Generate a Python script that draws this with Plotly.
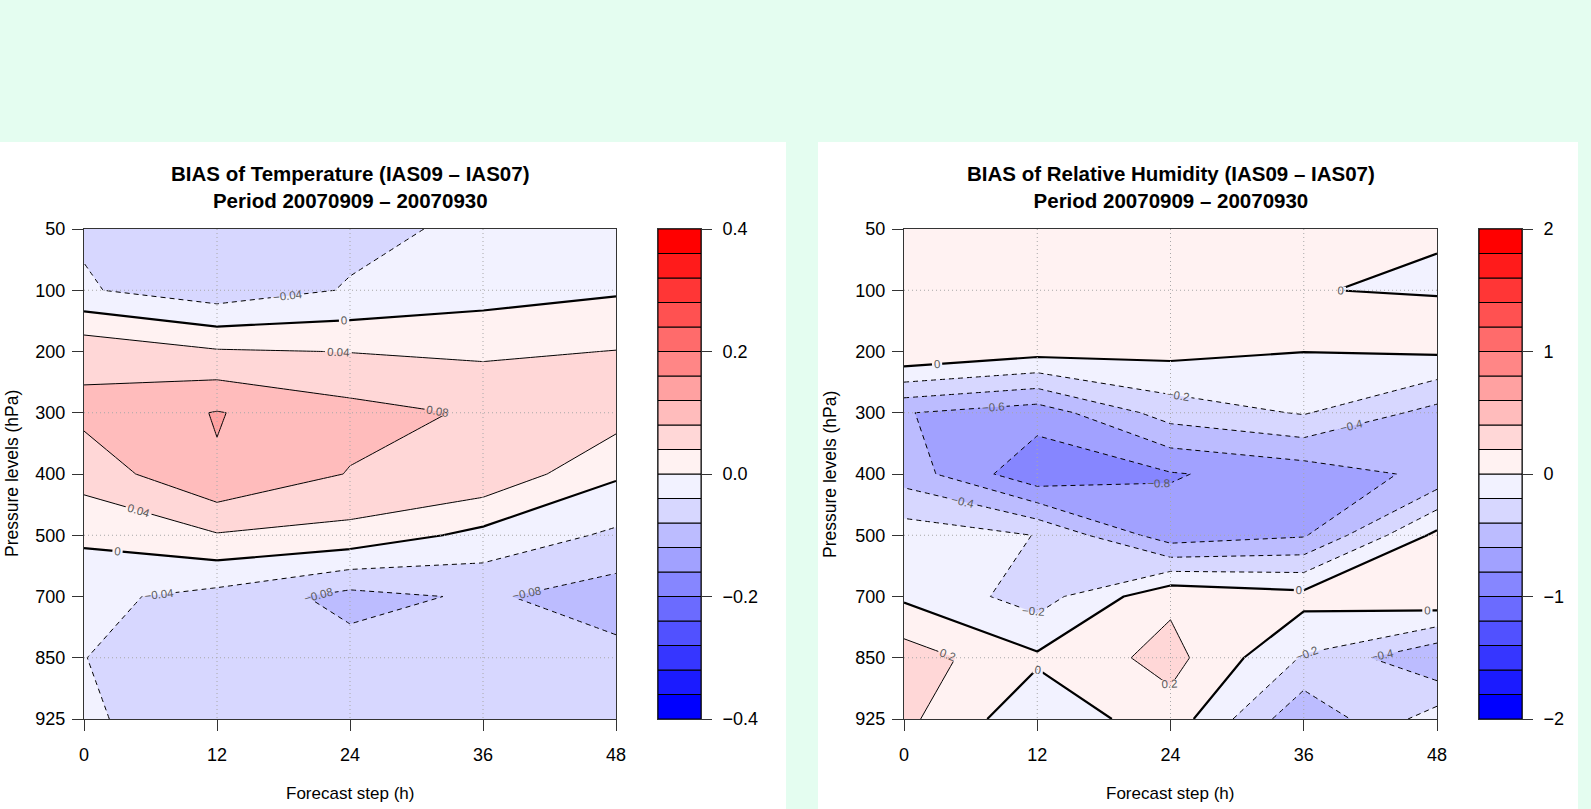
import plotly.graph_objects as go

# ---------------------------------------------------------------- data
steps = [0, 12, 24, 36, 48]                                   # forecast step (h)
levels_hpa = [50, 100, 200, 300, 400, 500, 700, 850, 925]     # pressure levels (hPa)

# BIAS of temperature, one row per pressure level, one column per step
temp_bias = [
    [-0.045, -0.060, -0.050, -0.032, -0.020],
    [-0.036, -0.064, -0.037, -0.0163, -0.0046],
    [0.068, 0.044, 0.039, 0.033, 0.041],
    [0.090, 0.122, 0.093, 0.0754, 0.058],
    [0.0565, 0.117, 0.078, 0.0717, 0.006],
    [0.008, 0.037, 0.027, -0.0117, -0.047],
    [-0.030, -0.053, -0.093, -0.0744, -0.100],
    [-0.0395, -0.060, -0.064, -0.060, -0.068],
    [-0.0353, -0.060, -0.060, -0.060, -0.060],
]

# BIAS of relative humidity
rh_bias = [
    [0.050, 0.050, 0.050, 0.020, 0.002],
    [0.050, 0.060, 0.050, 0.001, -0.003],
    [0.190, 0.070, 0.057, 0.002, 0.028],
    [-0.590, -0.710, -0.310, -0.184, -0.470],
    [-0.490, -0.950, -0.815, -0.715, -0.550],
    [-0.090, -0.205, -0.713, -0.620, 0.050],
    [-0.034, -0.290, 0.157, 0.070, 0.170],
    [0.305, 0.033, 0.270, -0.220, -0.580],
    [0.250, -0.150, 0.118, -0.560, -0.100],
]

# contour breaks
temp_lo, temp_hi, temp_step = -0.4, 0.4, 0.04
rh_lo, rh_hi, rh_step = -2.0, 2.0, 0.2

# colour key ticks
temp_key_ticks = [-0.4, -0.2, 0.0, 0.2, 0.4]
temp_key_text = ["\u22120.4", "\u22120.2", "0.0", "0.2", "0.4"]
rh_key_ticks = [-2, -1, 0, 1, 2]
rh_key_text = ["\u22122", "\u22121", "0", "1", "2"]

# dotted reference lines
grid_steps = [12, 24, 36]
grid_levels = [100, 300, 500, 850]

# blue-white-red palette, 20 classes
palette = [
    "#0000FF", "#1B1BFF", "#3636FF", "#5151FF", "#6B6BFF",
    "#8686FF", "#A1A1FF", "#BCBCFF", "#D7D7FF", "#F2F2FF",
    "#FFF2F2", "#FFD7D7", "#FFBCBC", "#FFA1A1", "#FF8686",
    "#FF6B6B", "#FF5151", "#FF3636", "#FF1B1B", "#FF0000",
]

titles = [
    ("BIAS of Temperature (IAS09 \u2013 IAS07)", "Period 20070909 \u2013 20070930"),
    ("BIAS of Relative Humidity (IAS09 \u2013 IAS07)", "Period 20070909 \u2013 20070930"),
]
xlabel = "Forecast step (h)"
ylabel = "Pressure levels (hPa)"

# ---------------------------------------------------------------- layout geometry (pixels)
W, H = 1591, 809
FONT = "Liberation Sans"
MINT = "#E4FDF0"


def px_x(v):
    return v / W


def px_y(v):
    return 1 - v / H


plot_top, plot_bot = 229, 719
panels = [
    dict(panel=(0, 786), plot=(84, 616), key=(658, 701), ylab_x=12),
    dict(panel=(818, 1578), plot=(904, 1437), key=(1479, 1522), ylab_x=830),
]


def fill_colorscale(n):
    # stops sit exactly on the colours plotly samples for each band
    cols = [palette[0]] + palette + [palette[-1]]
    total = n + 1
    return [[j / total, c] for j, c in enumerate(cols)]


fig = go.Figure()
layout_axes = {}
annotations = []
shapes = []

fields = [
    (temp_bias, temp_lo, temp_hi, temp_step, temp_key_ticks, temp_key_text),
    (rh_bias, rh_lo, rh_hi, rh_step, rh_key_ticks, rh_key_text),
]

yidx = list(range(len(levels_hpa)))

for p, (geo, field, ttl) in enumerate(zip(panels, fields, titles)):
    z, lo, hi, st, kticks, ktext = field
    ax_main = 2 * p + 1
    ax_key = 2 * p + 2
    xa = "x" if ax_main == 1 else f"x{ax_main}"
    ya = "y" if ax_main == 1 else f"y{ax_main}"
    xk = f"x{ax_key}"
    yk = f"y{ax_key}"
    nband = len(palette)

    # white panel
    shapes.append(dict(type="rect", xref="paper", yref="paper",
                       x0=px_x(geo["panel"][0]), x1=px_x(geo["panel"][1]),
                       y0=0, y1=px_y(142), fillcolor="white",
                       line=dict(width=0), layer="below"))

    # filled bands
    fig.add_trace(go.Contour(
        x=steps, y=yidx, z=z, xaxis=xa, yaxis=ya,
        autocontour=False,
        contours=dict(start=lo, end=hi, size=st, coloring="fill", showlines=False),
        colorscale=fill_colorscale(nband),
        line=dict(width=0, smoothing=0),
        showscale=False, hoverinfo="skip",
    ))

    label_font = dict(family=FONT, size=11.5, color="#5a5a5a")
    # positive isolines (solid), negative (dashed), zero (thick)
    for start, end, width, dash in [
        (st, hi, 1, "solid"),
        (lo, -st, 1, "5px,4px"),
        (0, 0, 2.2, "solid"),
    ]:
        fig.add_trace(go.Contour(
            x=steps, y=yidx, z=z, xaxis=xa, yaxis=ya,
            autocontour=False,
            contours=dict(start=start, end=end, size=st, coloring="none",
                          showlabels=True, labelfont=label_font),
            line=dict(color="black", width=width, dash=dash, smoothing=0),
            showscale=False, hoverinfo="skip",
        ))

    # dotted grid above the fill
    gx, gy = [], []
    for g in grid_steps:
        gx += [g, g, None]
        gy += [yidx[0], yidx[-1], None]
    for lev in grid_levels:
        i = levels_hpa.index(lev)
        gx += [steps[0], steps[-1], None]
        gy += [i, i, None]
    fig.add_trace(go.Scatter(x=gx, y=gy, mode="lines", xaxis=xa, yaxis=ya,
                             line=dict(color="#a8a8a8", width=1, dash="1px,3px"),
                             hoverinfo="skip", showlegend=False))

    # colour key built from the band breaks
    bases = [lo + k * st for k in range(nband)]
    fig.add_trace(go.Bar(
        x=[0] * nband, y=[st] * nband, base=bases, width=1,
        marker=dict(color=palette, line=dict(color="black", width=1)),
        xaxis=xk, yaxis=yk, hoverinfo="skip", showlegend=False,
    ))

    tick_font = dict(family=FONT, size=18, color="black")
    common = dict(automargin=False, showgrid=False, zeroline=False)
    layout_axes[f"xaxis{'' if ax_main == 1 else ax_main}"] = dict(
        domain=[px_x(geo["plot"][0]), px_x(geo["plot"][1])],
        range=[steps[0], steps[-1]], tickvals=steps, ticks="outside",
        ticklen=11, tickwidth=1, tickcolor="#333", showline=True,
        linecolor="#333", linewidth=1, mirror=True,
        tickfont=tick_font, anchor=ya, ticklabelstandoff=8, **common,
    )
    layout_axes[f"yaxis{'' if ax_main == 1 else ax_main}"] = dict(
        domain=[px_y(plot_bot), px_y(plot_top)],
        range=[yidx[-1], yidx[0]], tickvals=yidx,
        ticktext=[str(v) for v in levels_hpa], ticks="outside",
        ticklen=11, tickwidth=1, tickcolor="#333", showline=True,
        linecolor="#333", linewidth=1, mirror=True,
        tickfont=tick_font, anchor=xa, ticklabelstandoff=3, **common,
    )
    layout_axes[f"xaxis{ax_key}"] = dict(
        domain=[px_x(geo["key"][0]), px_x(geo["key"][1])],
        range=[-0.5, 0.5], showticklabels=False, ticks="",
        showline=True, linecolor="#333", mirror=True, anchor=yk, **common,
    )
    layout_axes[f"yaxis{ax_key}"] = dict(
        domain=[px_y(plot_bot), px_y(plot_top)],
        range=[lo, hi], side="right", tickvals=kticks, ticktext=ktext,
        ticks="outside", ticklen=10, tickwidth=1, tickcolor="#333",
        showline=True, linecolor="#333", mirror=True,
        tickfont=tick_font, anchor=xk, ticklabelstandoff=7, **common,
    )

    cx = px_x((geo["plot"][0] + geo["plot"][1]) / 2)
    annotations.append(dict(
        text=f"<b>{ttl[0]}</b><br><b>{ttl[1]}</b>", xref="paper", yref="paper",
        x=cx, y=px_y(187), xanchor="center", yanchor="middle", showarrow=False,
        font=dict(family=FONT, size=20.5, color="black"),
    ))
    annotations.append(dict(
        text=xlabel, xref="paper", yref="paper", x=cx, y=px_y(793),
        xanchor="center", yanchor="middle", showarrow=False,
        font=dict(family=FONT, size=17, color="black"),
    ))
    annotations.append(dict(
        text=ylabel, xref="paper", yref="paper", x=px_x(geo["ylab_x"]),
        y=px_y((plot_top + plot_bot) / 2), xanchor="center", yanchor="middle",
        textangle=-90, showarrow=False,
        font=dict(family=FONT, size=17.5, color="black"),
    ))

fig.update_layout(
    width=W, height=H, autosize=False,
    margin=dict(l=0, r=0, t=0, b=0, pad=0, autoexpand=False),
    paper_bgcolor=MINT, plot_bgcolor="white", showlegend=False,
    font=dict(family=FONT, color="black"),
    shapes=shapes, annotations=annotations, barmode="overlay",
    **layout_axes,
)

# page without the default body margin so the figure fills the window
page_css = ("document.body.style.margin='0';document.body.style.padding='0';"
            "document.body.style.background='" + MINT + "';")

fig.write_html("out.html", config=dict(displayModeBar=False, responsive=False),
               post_script=page_css)
